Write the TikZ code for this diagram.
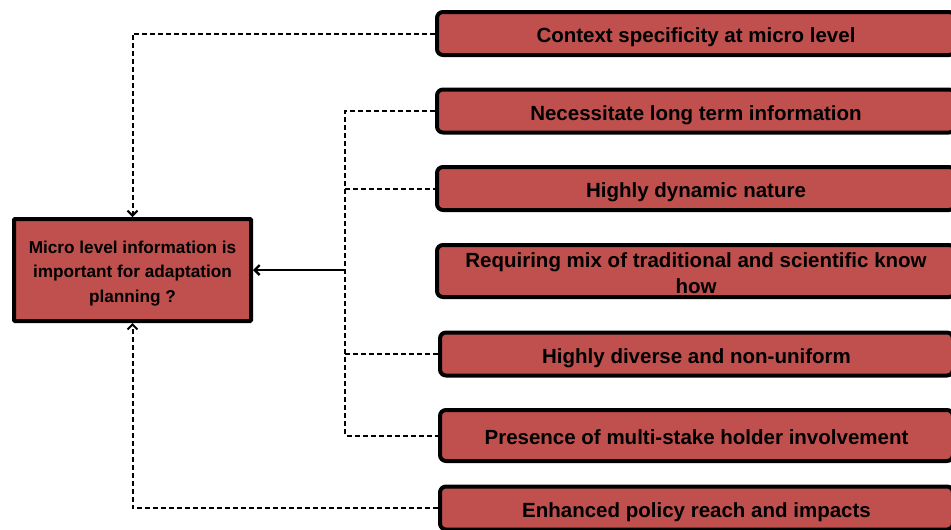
\documentclass[tikz,border=0pt]{standalone}
\usepackage{fontspec}
\setmainfont{Liberation Sans}
\usetikzlibrary{arrows.meta}
\definecolor{boxred}{HTML}{C0504D}

\begin{document}
\begin{tikzpicture}[x=1pt, y=-1pt, >={Straight Barb[length=5pt,width=10pt]},
    factor/.style={draw=black, line width=4pt, fill=boxred, rounded corners=6pt,
        minimum width=518pt, minimum height=43pt, inner xsep=0pt, inner ysep=2pt,
        text height=20pt, text depth=1.2pt, align=center,
        font=\bfseries\fontsize{20.5}{26}\selectfont},
    lowfactor/.style={factor, minimum width=513pt},
    question/.style={draw=black, line width=4pt, fill=boxred, rounded corners=1pt,
        minimum width=237pt, minimum height=102pt, inner sep=0pt,
        text height=68pt, text depth=4pt, align=center,
        font=\bfseries\fontsize{17.2}{24.5}\selectfont},
    dashlink/.style={draw=black, line width=2pt, dash pattern=on 5pt off 3pt},
    solidlink/.style={draw=black, line width=2.4pt}]
    \useasboundingbox (0,0) rectangle (951,530);
    \clip (0,0) rectangle (951,530);

    % Central question
    \node[question] (micro) at (132.5,270) {Micro level information is\\important for adaptation\\planning ?};

    % Factors on the right
    \node[factor] (ctx) at (696,33.5) {Context specificity at micro level};
    \node[factor] (longterm) at (696,111) {Necessitate long term information};
    \node[factor] (dynamic) at (696,188.5) {Highly dynamic nature};
    \node[factor, text height=47pt, text depth=3pt, inner ysep=0pt, minimum height=52pt] (mix) at (696,271)
        {Requiring mix of traditional and scientific know\\how};
    \node[lowfactor] (diverse) at (696.5,354) {Highly diverse and non-uniform};
    \node[lowfactor, minimum height=51pt] (stake) at (696.5,435.5) {Presence of multi-stake holder involvement};
    \node[lowfactor] (policy) at (696.5,508) {Enhanced policy reach and impacts};

    % Outer links to top and bottom of the question
    \draw[dashlink, ->] (ctx.west) -| (micro.north);
    \draw[dashlink, ->] (policy.west) -| (micro.south);

    % Trunk collecting the middle factors
    \coordinate (trunk) at (345,0);
    \draw[dashlink] (longterm.west) -| (trunk |- stake.west) -- (stake.west);
    \draw[dashlink] (trunk |- dynamic.west) -- (dynamic.west);
    \draw[dashlink] (trunk |- diverse.west) -- (diverse.west);
    \draw[solidlink, ->] (trunk |- micro.east) -- (micro.east);
\end{tikzpicture}
\end{document}
